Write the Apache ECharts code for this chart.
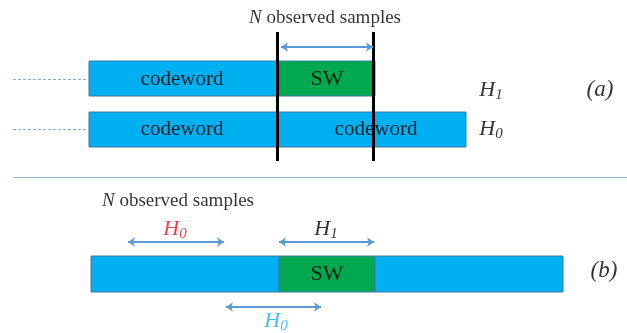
<!DOCTYPE html>
<html><head><meta charset="utf-8">
<script src="https://cdn.jsdelivr.net/npm/echarts@6/dist/echarts.min.js"></script>
<style>html,body{margin:0;padding:0;background:#fff}#c{width:627px;height:333px}</style>
</head><body><div id="c"></div>
<script>
// Segments of the sample streams (x in sample units, y in row units)
const segStart = [89, 277, 89, 91, 279, 375];
const segEnd   = [277, 375, 466, 279, 375, 563];
const segTop   = [61, 61, 112, 256, 256, 256];
const segBot   = [96, 96, 147, 292, 292, 292];
const segKind  = ['codeword', 'sw', 'codeword', 'codeword', 'sw', 'codeword'];

// Observation window boundaries (panel a)
const winX = [277, 373];
const winY = [32, 161];

// Double arrows
const arrX1 = [281, 128, 279, 226];
const arrX2 = [373, 224, 374, 321];
const arrY  = [47, 242, 242, 307];

// Dashed leaders and separator
const dashY = [79, 129];
const dashX = [13, 88];
const sepY = 177, sepX = [13, 627];

// Text labels
const labText = ['{i|N} observed samples', 'codeword', 'SW', 'codeword', 'codeword',
  '{h|H}{s|1}', '{h|H}{s|0}', '{p|(a)}', '{i|N} observed samples',
  '{r|H}{rs|0}', '{h|H}{s|1}', '{p|(b)}', '{c|H}{cs|0}', 'SW'];
const labX = [325, 182, 327, 182, 376, 491, 491, 600, 178, 175, 326, 604, 276, 327];
const labY = [18, 79, 79, 129, 129, 90, 129, 90, 201, 229, 229, 271, 321, 274];

const font = 'Liberation Serif';
const C = { codeword: '#00B0F0', sw: '#00A850' };

const rects = segStart.map((s, i) => [s, segEnd[i], segTop[i], segBot[i], segKind[i]]);
const lines = [];
winX.forEach(x => lines.push({ coords: [[x, winY[0]], [x, winY[1]]], lineStyle: { color: '#000', width: 3, opacity: 1 } }));
dashY.forEach(y => lines.push({ coords: [[dashX[0], y], [dashX[1], y]], lineStyle: { color: '#7fb0dc', width: 1, type: [3, 2], opacity: 1 } }));
lines.push({ coords: [[sepX[0], sepY], [sepX[1], sepY]], lineStyle: { color: '#98bcd6', width: 1, opacity: 1 } });
const arrows = arrX1.map((x, i) => ({ coords: [[x, arrY[i]], [arrX2[i], arrY[i]]] }));

const sub = { fontFamily: font, fontStyle: 'italic', fontSize: 15, verticalAlign: 'bottom', lineHeight: 22 };
const big = { fontFamily: font, fontStyle: 'italic', fontSize: 22, lineHeight: 26 };
const rich = {
  i: { fontFamily: font, fontStyle: 'italic', fontSize: 19, color: '#000' },
  n: { fontFamily: font, fontSize: 19, color: '#000' },
  w: { fontFamily: font, fontSize: 21, color: '#000' },
  sw: { fontFamily: font, fontSize: 22, color: '#000' },
  h: Object.assign({}, big, { color: '#000' }),
  s: Object.assign({}, sub, { color: '#000' }),
  r: Object.assign({}, big, { color: '#E8141C' }),
  rs: Object.assign({}, sub, { color: '#E8141C' }),
  c: Object.assign({}, big, { color: '#19AEE6' }),
  cs: Object.assign({}, sub, { color: '#19AEE6' }),
  p: Object.assign({}, big, { color: '#000', fontSize: 23 })
};
const texts = labText.map((t, i) => ({
  value: [labX[i], labY[i]],
  label: {
    formatter: t === 'codeword' ? '{w|codeword}' : t === 'SW' ? '{sw|SW}'
      : t.replace(' observed samples', '{n| observed samples}')
  }
}));

const chart = echarts.init(document.getElementById('c'), null, { renderer: 'canvas' });
chart.setOption({
  animation: false,
  textStyle: { fontFamily: font },
  grid: { left: 0, right: 0, top: 0, bottom: 0 },
  xAxis: { type: 'value', min: 0, max: 627, show: false },
  yAxis: { type: 'value', min: 0, max: 333, inverse: true, show: false },
  series: [
    {
      type: 'custom', data: rects, z: 1,
      renderItem: (params, api) => {
        const p1 = api.coord([api.value(0), api.value(2)]);
        const p2 = api.coord([api.value(1), api.value(3)]);
        const kind = rects[params.dataIndex][4];
        return {
          type: 'rect',
          shape: { x: p1[0], y: p1[1], width: p2[0] - p1[0], height: p2[1] - p1[1] },
          style: { fill: C[kind], stroke: '#3f79a8', lineWidth: 1 }
        };
      }
    },
    { type: 'lines', coordinateSystem: 'cartesian2d', data: lines, z: 3, symbol: 'none', silent: true },
    {
      type: 'lines', coordinateSystem: 'cartesian2d', data: arrows, z: 3,
      symbol: ['arrow', 'arrow'], symbolSize: [7, 7],
      lineStyle: { color: '#5B9BD5', width: 2, opacity: 1 }, silent: true
    },
    {
      type: 'scatter', data: texts, symbolSize: 0, z: 5, silent: true,
      label: {
        show: true, position: 'inside', align: 'center', verticalAlign: 'middle',
        fontFamily: font, color: '#000', rich: rich
      }
    }
  ]
});
</script></body></html>
